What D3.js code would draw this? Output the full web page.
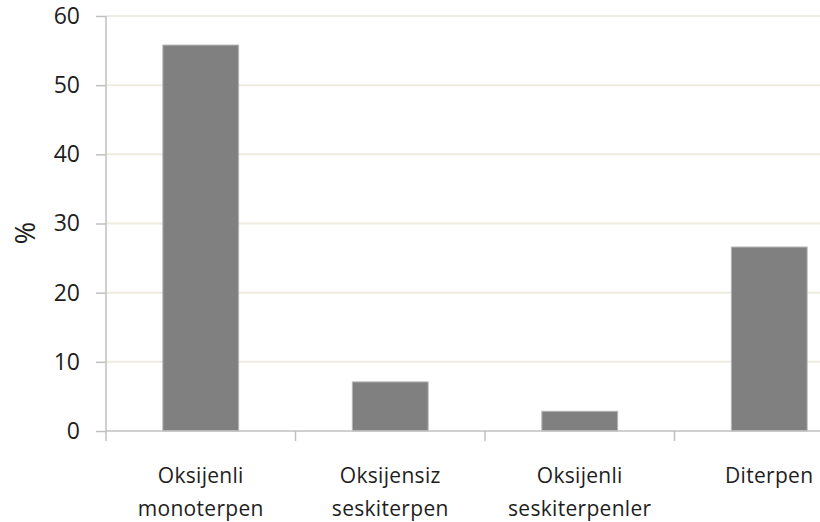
<!DOCTYPE html>
<html>
<head>
<meta charset="utf-8">
<script src="https://cdn.jsdelivr.net/npm/d3@7"></script>
<style>
  html, body { margin: 0; padding: 0; background: #fff; }
  svg { display: block; }
  text { font-family: "Open Sans", sans-serif; fill: #1e1e1e; }
</style>
</head>
<body>
<svg id="chart" width="820" height="522"></svg>
<script>
const categories = [["Oksijenli", "monoterpen"], ["Oksijensiz", "seskiterpen"], ["Oksijenli", "seskiterpenler"], ["Diterpen"]];
const values = [55.8, 7.1, 2.85, 26.6];
const yTicks = [0, 10, 20, 30, 40, 50, 60];
const yLabel = "%";

const svg = d3.select("#chart");
const mLeft = 106, mRight = 864, mTop = 16, mBottom = 431;

const keys = categories.map((c, i) => i);
const x = d3.scaleBand().domain(keys).range([mLeft, mRight]).paddingInner(0.6).paddingOuter(0.3);
const y = d3.scaleLinear().domain([0, 60]).range([mBottom, mTop]);

// gridlines
svg.append("g").selectAll("line").data(yTicks.filter(t => t > 0)).join("line")
  .attr("x1", mLeft).attr("x2", mRight)
  .attr("y1", d => y(d)).attr("y2", d => y(d))
  .attr("stroke", "#eeece1").attr("stroke-width", 2);

// bars
svg.append("g").selectAll("rect").data(values).join("rect")
  .attr("x", (d, i) => x(i)).attr("width", x.bandwidth())
  .attr("y", d => y(d)).attr("height", d => y(0) - y(d))
  .attr("fill", "#808080").attr("stroke", "#b5b5b5").attr("stroke-width", 1);

// y axis
const yAxis = d3.axisLeft(y).tickValues(yTicks).tickSize(10).tickPadding(16).tickFormat(d3.format("d"));
const gy = svg.append("g").attr("transform", `translate(${mLeft},0)`).call(yAxis);
gy.select(".domain").attr("stroke", "#c0c0c0").attr("stroke-width", 1.5).attr("d", `M0,${mTop}V${mBottom}`);
gy.selectAll(".tick line").attr("stroke", "#c0c0c0").attr("stroke-width", 1.5);
gy.selectAll(".tick text").attr("font-size", 23).attr("font-family", "Open Sans, sans-serif").attr("fill", "#1e1e1e");

// x axis
const xAxisG = svg.append("g").attr("transform", `translate(0,${mBottom})`);
xAxisG.append("line").attr("x1", mLeft).attr("x2", mRight).attr("y1", 0).attr("y2", 0)
  .attr("stroke", "#c0c0c0").attr("stroke-width", 1.5);
const boundaries = d3.range(keys.length + 1).map(i => mLeft + i * x.step());
xAxisG.selectAll("line.tk").data(boundaries).join("line").attr("class", "tk")
  .attr("x1", d => d).attr("x2", d => d).attr("y1", 0).attr("y2", 10)
  .attr("stroke", "#c0c0c0").attr("stroke-width", 1.5);

// category labels
const labels = svg.append("g").selectAll("text").data(categories).join("text")
  .attr("text-anchor", "middle").attr("font-size", 21).attr("letter-spacing", 0.3)
  .attr("x", (d, i) => x(i) + x.bandwidth() / 2)
  .attr("y", 483);
labels.selectAll("tspan").data(d => d).join("tspan")
  .attr("x", function () { return this.parentNode.getAttribute("x"); })
  .attr("dy", (d, j) => j === 0 ? 0 : 33)
  .text(d => d);

// y label
svg.append("text").attr("transform", "translate(35,233) rotate(-90)")
  .attr("text-anchor", "middle").attr("font-size", 27).text(yLabel);
</script>
</body>
</html>
